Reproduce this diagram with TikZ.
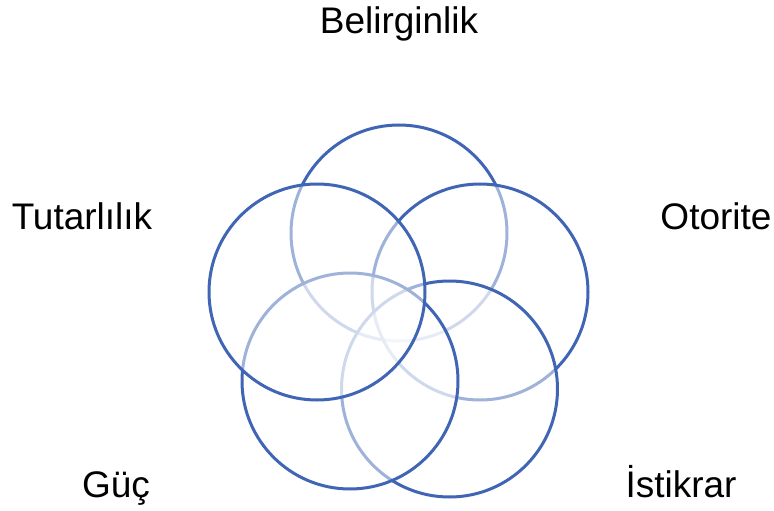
\documentclass[tikz,border=0pt]{standalone}
\usepackage{fontspec}
\setmainfont{Liberation Sans}
\usepackage{tikz}
\usetikzlibrary{positioning}
\usepackage{xcolor}
\definecolor{vennblue}{RGB}{63,101,180}

\begin{document}
\begin{tikzpicture}[
    x=1pt, y=-1pt,
    ring/.style={circle, draw=vennblue, line width=3pt, fill=white, fill opacity=0.5,
                 minimum size=216pt, inner sep=0pt},
    lbl/.style={anchor=base, inner sep=0pt, font=\fontsize{37}{44}\selectfont}
]
\useasboundingbox (0,0) rectangle (774,511);
% circles, back to front
\node[ring] (belir) at (399,233) {};
\node[ring] (otor) at (480,292) {};
\node[ring] (istik) at (449.5,389) {};
\node[ring] (guc) at (350,381) {};
\node[ring] (tutar) at (317,292) {};
% labels
\node[lbl] (lbelir) at (399,34) {Belirginlik};
\node[lbl] (ltutar) at (82,229) {Tutarlılık};
\node[lbl] (lotor) at (716,229) {Otorite};
\node[lbl] (lguc) at (116,497) {Güç};
\node[lbl] (listik) at (681,497) {İstikrar};
\end{tikzpicture}
\end{document}
